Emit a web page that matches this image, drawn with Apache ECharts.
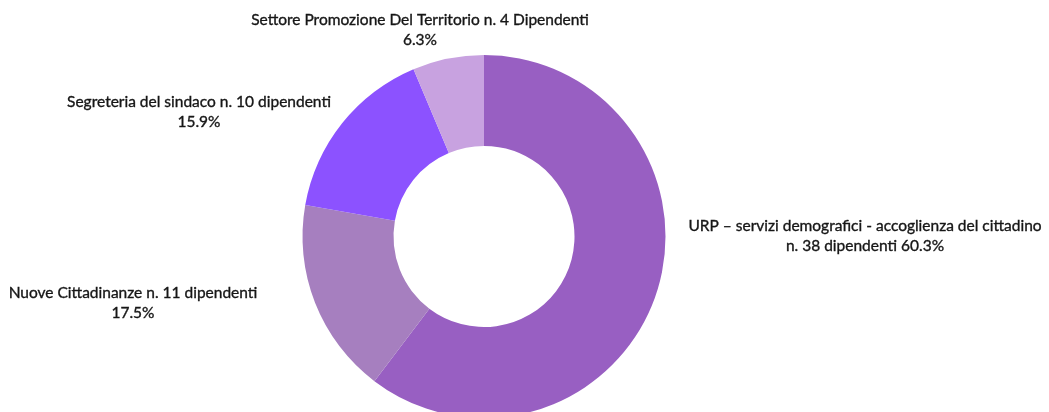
<!DOCTYPE html>
<html>
<head>
<meta charset="utf-8">
<script src="https://cdn.jsdelivr.net/npm/echarts@6/dist/echarts.min.js"></script>
<style>
html,body{margin:0;padding:0;background:#fff;}
#c{width:1049px;height:412px;}
</style>
</head>
<body>
<div id="c"></div>
<script>
const categories = [
  "URP – servizi demografici - accoglienza del cittadino\nn. 38 dipendenti",
  "Nuove Cittadinanze n. 11 dipendenti",
  "Segreteria del sindaco n. 10 dipendenti",
  "Settore Promozione Del Territorio n. 4 Dipendenti"
];
const values = [38, 11, 10, 4];
const colors = ["#985fc2", "#a67fbf", "#8c52ff", "#c8a2e0"];
// label block centres (text placement only)
const labelSpots = [[865, 236], [133, 303], [199, 112], [420, 30]];

const chart = echarts.init(document.getElementById('c'), null, {renderer: 'canvas'});
chart.setOption({
  animation: false,
  series: [{
    type: 'pie',
    center: [484, 236.5],
    radius: [90.5, 181.5],
    startAngle: 90,
    clockwise: true,
    percentPrecision: 1,
    data: categories.map((n, i) => ({name: n, value: values[i], itemStyle: {color: colors[i]}})),
    itemStyle: {borderWidth: 0},
    label: {
      show: true,
      position: 'outside',
      color: '#161616',
      fontFamily: 'Lato',
      fontSize: 15.5,
      lineHeight: 19.5,
      textBorderColor: '#161616',
      textBorderWidth: 0.35,
      align: 'center',
      overflow: 'none',
      width: 600,
      formatter: function (p) {
        const pct = p.percent.toFixed(1) + '%';
        return p.name.indexOf('\n') >= 0 ? p.name + ' ' + pct : p.name + '\n' + pct;
      }
    },
    labelLine: {show: false},
    labelLayout: function (p) {
      const s = labelSpots[p.dataIndex];
      return {x: s[0], y: s[1], align: 'center', verticalAlign: 'middle'};
    },
    emphasis: {disabled: true}
  }]
});
</script>
</body>
</html>
